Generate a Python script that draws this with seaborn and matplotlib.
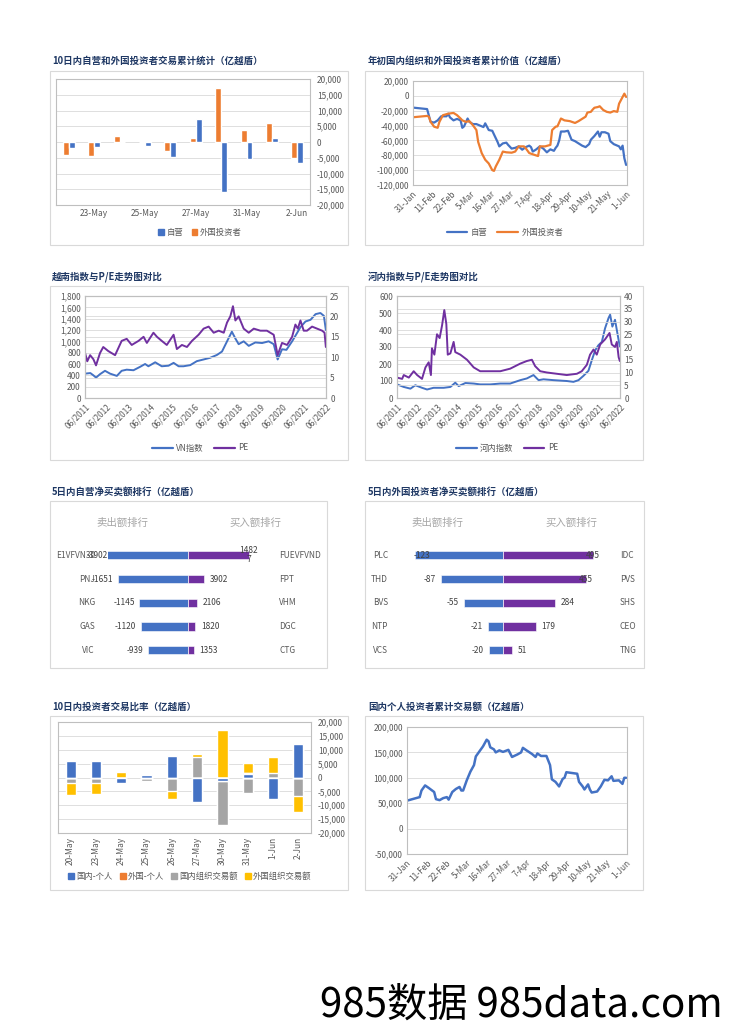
import numpy as np
import pandas as pd
import matplotlib
matplotlib.use('Agg')
import matplotlib.pyplot as plt
import matplotlib.transforms as mtransforms
from matplotlib.patches import Rectangle, Patch
from matplotlib.lines import Line2D
from matplotlib.ticker import FuncFormatter, MultipleLocator
import seaborn as sns

sns.set_theme(style='white')
plt.rcParams['font.family'] = ['Noto Sans CJK SC', 'DejaVu Sans']
plt.rcParams['axes.unicode_minus'] = False

# ------------------------------------------------------------------ data
# Panel 1: 10-day proprietary vs foreign (亿越盾)
p1_dates = ['20-May', '23-May', '24-May', '25-May', '26-May', '27-May', '30-May', '31-May', '1-Jun', '2-Jun']
p1_self = [-1850, -1650, 0, -1200, -4800, 7400, -15900, -5400, 1400, -6700]
p1_foreign = [-4200, -4400, 1950, 0, -2700, 1200, 17100, 3900, 6100, -5200]

# Panel 2: cumulative since start of year (days after 31-Jan)
p2_self_day = [0, 8, 10, 12, 14, 16, 19, 20, 21, 23, 25, 27, 28, 29, 31, 32, 34, 36, 38, 40, 41, 43, 45, 47,
               48, 49, 50, 51, 53, 54, 56, 58, 60, 62, 64, 66, 67, 68, 70, 72, 74, 76, 78, 80, 81, 82, 83, 84,
               86, 88, 90, 92, 94, 96, 98, 100, 101, 103, 105, 106, 107, 109, 111, 112, 114, 116, 117, 118,
               119, 120, 121]
p2_self = [-15800, -17800, -35000, -36000, -33000, -27500, -27500, -24000, -29000, -33000, -31000, -33000,
           -43000, -41000, -30500, -35000, -38000, -38000, -40000, -42000, -37000, -46000, -47000, -57000,
           -62000, -68000, -66000, -64000, -63000, -66000, -71000, -70000, -68000, -72500, -69000, -67000,
           -69000, -75000, -72000, -68000, -71000, -76000, -72000, -74000, -70000, -67000, -60000, -48000,
           -48000, -47000, -59000, -61000, -64000, -67000, -69000, -65000, -59000, -54000, -48000, -55000,
           -49000, -49000, -51000, -61000, -65000, -67000, -68000, -72000, -67000, -84000, -93000]
p2_foreign_day = [0, 8, 9, 10, 12, 14, 15, 17, 20, 23, 25, 27, 28, 30, 32, 34, 36, 37, 39, 41, 43, 45, 46, 47,
                  49, 51, 53, 56, 58, 60, 63, 64, 66, 69, 71, 72, 75, 78, 79, 81, 82, 84, 86, 89, 92, 94, 96,
                  98, 99, 101, 102, 103, 105, 106, 108, 110, 112, 114, 116, 117, 119, 120, 121]
p2_foreign = [-28800, -27000, -28000, -35000, -41500, -43000, -35000, -26000, -24000, -23000, -26000, -30500,
              -33000, -35000, -34000, -39500, -46000, -62000, -77000, -86000, -91000, -100000, -101000, -95000,
              -86000, -75000, -76000, -76500, -75000, -68000, -68000, -70500, -77000, -79500, -81000, -68000,
              -68000, -66000, -46000, -41500, -41000, -30500, -33000, -34000, -36500, -34000, -31000, -28000,
              -22500, -21500, -18500, -16000, -15000, -14000, -19000, -21500, -22500, -20500, -21500, -10500,
              -1500, 3000, -1500]
p2_ticks = ['2022-01-31', '2022-02-11', '2022-02-22', '2022-03-05', '2022-03-16', '2022-03-27',
            '2022-04-07', '2022-04-18', '2022-04-29', '2022-05-10', '2022-05-21', '2022-06-01']

# Panel 3: VN-Index and P/E (decimal years)
p3_vn_t = [2011.42, 2011.66, 2011.80, 2011.92, 2012.10, 2012.33, 2012.56, 2012.87, 2013.09, 2013.32, 2013.63,
           2013.93, 2014.16, 2014.31, 2014.62, 2014.92, 2015.23, 2015.46, 2015.69, 2015.91, 2016.22, 2016.52,
           2016.83, 2017.13, 2017.44, 2017.67, 2017.90, 2018.12, 2018.28, 2018.43, 2018.66, 2018.89, 2019.19,
           2019.50, 2019.80, 2020.03, 2020.21, 2020.41, 2020.61, 2020.87, 2021.10, 2021.25, 2021.48, 2021.71,
           2021.94, 2022.16, 2022.32, 2022.41]
p3_vn = [430, 440, 400, 360, 420, 480, 430, 390, 480, 500, 490, 550, 600, 560, 630, 560, 570, 620, 560, 560,
         580, 650, 680, 710, 760, 820, 1000, 1170, 1050, 950, 1000, 920, 980, 970, 1000, 950, 680, 860, 850,
         1000, 1150, 1250, 1350, 1380, 1480, 1500, 1450, 1200]
p3_pe_t = [2011.42, 2011.52, 2011.65, 2011.80, 2011.92, 2012.10, 2012.25, 2012.48, 2012.79, 2013.09, 2013.32,
           2013.55, 2013.86, 2014.09, 2014.24, 2014.54, 2014.70, 2014.92, 2015.15, 2015.46, 2015.61, 2015.84,
           2016.07, 2016.30, 2016.60, 2016.83, 2017.06, 2017.29, 2017.52, 2017.75, 2017.90, 2018.05, 2018.17,
           2018.28, 2018.43, 2018.66, 2018.89, 2019.12, 2019.42, 2019.72, 2020.03, 2020.21, 2020.41, 2020.64,
           2020.87, 2021.02, 2021.13, 2021.25, 2021.40, 2021.55, 2021.78, 2022.01, 2022.24, 2022.35, 2022.41]
p3_pe = [11, 9, 10.5, 9.5, 8, 11, 12.5, 11.5, 10.5, 14, 14.5, 13, 14, 15, 13.5, 16, 15, 14, 13, 15.5, 12, 13,
         12.5, 14, 15.5, 17, 17.5, 16, 16.5, 16, 18.5, 20, 22.5, 19, 20, 17, 16, 17, 16.5, 16.5, 15.5, 10.5,
         13.5, 13, 15, 18, 17, 19, 16.5, 16.5, 17.5, 17, 16.5, 16, 12.5]

# Panel 4: HNX-Index and P/E
p4_idx_t = [2011.42, 2011.75, 2012.08, 2012.32, 2012.65, 2012.90, 2013.22, 2013.72, 2014.05, 2014.29, 2014.46,
            2014.79, 2015.20, 2015.52, 2016.02, 2016.51, 2017.00, 2017.50, 2017.82, 2018.15, 2018.40, 2018.64,
            2019.14, 2019.79, 2020.12, 2020.37, 2020.61, 2020.86, 2021.02, 2021.19, 2021.35, 2021.52, 2021.68,
            2021.85, 2021.93, 2022.04, 2022.17, 2022.29, 2022.41]
p4_idx = [80, 65, 55, 75, 60, 50, 60, 60, 65, 90, 70, 88, 85, 80, 80, 85, 85, 105, 115, 135, 105, 110, 105,
          100, 95, 105, 130, 160, 220, 280, 310, 330, 410, 470, 490, 420, 460, 380, 300]
p4_pe_t = [2011.42, 2011.67, 2011.75, 2012.00, 2012.24, 2012.41, 2012.65, 2012.82, 2012.98, 2013.09, 2013.14,
           2013.26, 2013.39, 2013.52, 2013.64, 2013.75, 2013.85, 2013.92, 2014.05, 2014.21, 2014.29, 2014.54,
           2014.87, 2015.20, 2015.52, 2016.02, 2016.51, 2017.00, 2017.50, 2017.82, 2018.07, 2018.23, 2018.48,
           2018.81, 2019.30, 2019.79, 2020.29, 2020.53, 2020.78, 2020.94, 2021.11, 2021.27, 2021.44, 2021.68,
           2021.90, 2022.01, 2022.17, 2022.26, 2022.35, 2022.41]
p4_pe = [8, 7.5, 9, 8, 10.5, 9, 7.5, 12, 14, 9, 19.5, 17, 25, 23.5, 28.5, 34.5, 29, 17, 17.5, 22, 18, 17, 15,
         12, 10.5, 10.5, 10.5, 11.5, 13.5, 14.5, 15, 12.5, 10.5, 10, 9.5, 9, 9.5, 10.5, 13, 17, 19, 17, 21, 23,
         25.5, 21, 20, 22, 16, 14.5]
p34_ticks = ['06/2011', '06/2012', '06/2013', '06/2014', '06/2015', '06/2016',
             '06/2017', '06/2018', '06/2019', '06/2020', '06/2021', '06/2022']

# Panel 5: 5-day proprietary net buy/sell ranking
p5_sell_names = ['E1VFVN30', 'PNJ', 'NKG', 'GAS', 'VIC']
p5_sell_vals = [-3902, -1651, -1145, -1120, -939]
p5_buy_names = ['FUEVFVND', 'FPT', 'VHM', 'DGC', 'CTG']
p5_buy_vals = [14827, 3902, 2106, 1820, 1353]

# Panel 6: 5-day foreign net buy/sell ranking
p6_sell_names = ['PLC', 'THD', 'BVS', 'NTP', 'VCS']
p6_sell_vals = [-123, -87, -55, -21, -20]
p6_buy_names = ['IDC', 'PVS', 'SHS', 'CEO', 'TNG']
p6_buy_vals = [495, 455, 284, 179, 51]

# Panel 7: investor trading by type
p7_dates = ['20-May', '23-May', '24-May', '25-May', '26-May', '27-May', '30-May', '31-May', '1-Jun', '2-Jun']
p7_dom_ind = [5950, 5950, -1860, 900, 7630, -8830, -1260, 1380, -7630, 12070]
p7_for_ind = [0, 0, 0, 0, 0, 0, 0, 240, 0, 240]
p7_dom_org = [-1980, -1860, 0, -1380, -4860, 7390, -15970, -5460, 1620, -6790]
p7_for_org = [-4200, -4200, 1860, 360, -2890, 1080, 17100, 3720, 5770, -5640]
p7_labels = ['国内-个人', '外国-个人', '国内组织交易额', '外国组织交易额']

# Panel 8: domestic individual cumulative
p8_day = [0, 7, 8, 10, 12, 15, 16, 18, 20, 22, 23, 25, 27, 29, 30, 31, 33, 35, 37, 38, 40, 42, 44, 45, 46, 48,
          49, 51, 53, 56, 58, 61, 63, 64, 66, 69, 71, 72, 74, 77, 79, 80, 82, 84, 86, 87, 88, 92, 94, 95, 97,
          98, 100, 101, 102, 105, 107, 109, 111, 113, 114, 117, 119, 120, 121]
p8_val = [55000, 62000, 75000, 85000, 80000, 72000, 58000, 56000, 60000, 62000, 57000, 72000, 78000, 82000,
          75000, 75000, 95000, 112000, 125000, 142000, 152000, 162000, 175000, 172000, 160000, 156000, 150000,
          154000, 151000, 155000, 141000, 146000, 150000, 159000, 154000, 147000, 141000, 148000, 143000,
          143000, 125000, 97000, 92000, 83000, 98000, 100000, 111000, 109000, 108000, 92000, 83000, 77000,
          87000, 77000, 71000, 73000, 83000, 96000, 95000, 103000, 94000, 95000, 88000, 100000, 100000]

# ------------------------------------------------------------------ style
W, H = 729, 1032
BLUE = '#4472C4'; ORANGE = '#ED7D31'; GRAY = '#A5A5A5'; YELLOW = '#FFC000'; PURPLE = '#7030A0'
TICK = '#595959'; GRID = '#D9D9D9'; BORDER = '#BFBFBF'; TITLE = '#1F3864'; VAL = '#404040'

fig = plt.figure(figsize=(W / 100, H / 100), dpi=100)
fig.patch.set_facecolor('white')


def rect(x0, y0, x1, y1):
    return [x0 / W, 1 - y1 / H, (x1 - x0) / W, (y1 - y0) / H]


def frame(x0, y0, x1, y1):
    fig.add_artist(Rectangle((x0 / W, 1 - y1 / H), (x1 - x0) / W, (y1 - y0) / H,
                             transform=fig.transFigure, fill=False, ec='#D9D9D9', lw=0.8))


def title(x, y, s):
    fig.text(x / W, 1 - y / H, s, fontsize=6.8, fontweight='bold', color=TITLE, va='center', ha='left')


def style(ax, grid=True):
    for sp in ax.spines.values():
        sp.set_visible(True)
        sp.set_color(BORDER)
        sp.set_linewidth(0.8)
    ax.tick_params(length=0, labelsize=6, labelcolor=TICK, pad=3)
    ax.xaxis.grid(False)
    ax.yaxis.grid(grid, color=GRID, lw=0.6)
    ax.set_axisbelow(True)
    ax.set_xlabel('')
    ax.set_ylabel('')


def rotate(ax, deg):
    for lab in ax.get_xticklabels():
        lab.set_rotation(deg)
        if deg == 90:
            lab.set_ha('center')
        else:
            lab.set_ha('right')
            lab.set_rotation_mode('anchor')


comma = FuncFormatter(lambda v, p: f"{v:,.0f}")
leg_kw = dict(loc='center', frameon=False, fontsize=6, labelcolor=TICK)

# ------------------------------------------------------------------ frames & titles
frame(50, 71, 348, 245); frame(365, 71, 643, 245)
frame(50, 286, 348, 460); frame(365, 286, 643, 460)
frame(50, 501, 327, 668); frame(365, 501, 644, 668)
frame(50, 716, 348, 890); frame(365, 716, 643, 890)
title(52, 61, '10日内自营和外国投资者交易累计统计（亿越盾）')
title(368, 61, '年初国内组织和外国投资者累计价值（亿越盾）')
title(52, 277, '越南指数与P/E走势图对比')
title(368, 277, '河内指数与P/E走势图对比')
title(52, 492, '5日内自营净买卖额排行（亿越盾）')
title(368, 492, '5日内外国投资者净买卖额排行（亿越盾）')
title(52, 707, '10日内投资者交易比率（亿越盾）')
title(368, 707, '国内个人投资者累计交易额（亿越盾）')

# ------------------------------------------------------------------ panel 1
ax1 = fig.add_axes(rect(56, 79, 310, 205))
df1 = pd.DataFrame({'date': p1_dates * 2,
                    'series': ['外国投资者'] * len(p1_dates) + ['自营'] * len(p1_dates),
                    'value': p1_foreign + p1_self})
sns.barplot(data=df1, x='date', y='value', hue='series', hue_order=['外国投资者', '自营'], order=p1_dates,
            palette={'外国投资者': ORANGE, '自营': BLUE}, width=0.46, saturation=1, errorbar=None,
            legend=False, ax=ax1)
ax1.set_ylim(-20000, 20000)
ax1.yaxis.set_major_locator(MultipleLocator(5000))
ax1.yaxis.set_major_formatter(comma)
ax1.yaxis.tick_right()
ax1.set_xlim(-0.5, len(p1_dates) - 0.5)
ax1.set_xticks(range(len(p1_dates)))
ax1.set_xticklabels([d if i % 2 else '' for i, d in enumerate(p1_dates)])
style(ax1)
ax1.tick_params(axis='y', pad=5)
fig.legend(handles=[Patch(color=BLUE, label='自营'), Patch(color=ORANGE, label='外国投资者')],
           bbox_to_anchor=(200 / W, 1 - 232 / H), ncol=2, handlelength=0.7, handleheight=0.7,
           handletextpad=0.3, columnspacing=1.0, **leg_kw)

# ------------------------------------------------------------------ panel 2
base = pd.Timestamp('2022-01-31')
ax2 = fig.add_axes(rect(413, 81, 627, 185))
sns.lineplot(x=base + pd.to_timedelta(p2_self_day, unit='D'), y=p2_self, color=BLUE, lw=1.6, ax=ax2)
sns.lineplot(x=base + pd.to_timedelta(p2_foreign_day, unit='D'), y=p2_foreign, color=ORANGE, lw=1.6, ax=ax2)
ax2.set_ylim(-120000, 20000)
ax2.yaxis.set_major_locator(MultipleLocator(20000))
ax2.yaxis.set_major_formatter(comma)
tk = pd.to_datetime(p2_ticks)
ax2.set_xticks(tk)
ax2.set_xticklabels([f"{d.day}-{d.strftime('%b')}" for d in tk])
ax2.set_xlim(base, base + pd.Timedelta(days=121.5))
style(ax2)
rotate(ax2, 45)
fig.legend(handles=[Line2D([], [], color=BLUE, lw=1.6, label='自营'),
                    Line2D([], [], color=ORANGE, lw=1.6, label='外国投资者')],
           bbox_to_anchor=(505 / W, 1 - 232 / H), ncol=2, handlelength=2.5, handletextpad=0.4,
           columnspacing=1.2, **leg_kw)


# ------------------------------------------------------------------ panels 3 & 4
def year_pos(lbl):
    m, y = lbl.split('/')
    return int(y) + (int(m) - 1) / 12


def index_pe(box, t1, v1, t2, v2, ymax1, step1, ymax2, step2, label1, leg_x):
    ax = fig.add_axes(rect(*box))
    sns.lineplot(x=t1, y=v1, color=BLUE, lw=1.4, ax=ax)
    ax.set_ylim(0, ymax1)
    ax.yaxis.set_major_locator(MultipleLocator(step1))
    ax.yaxis.set_major_formatter(comma)
    axb = ax.twinx()
    sns.lineplot(x=t2, y=v2, color=PURPLE, lw=1.4, ax=axb)
    axb.set_ylim(0, ymax2)
    axb.yaxis.set_major_locator(MultipleLocator(step2))
    pos = [year_pos(s) for s in p34_ticks]
    ax.set_xticks(pos)
    ax.set_xticklabels(p34_ticks)
    ax.set_xlim(pos[0], pos[-1])
    style(ax, grid=False)
    style(axb, grid=False)
    rotate(ax, 45)
    fig.legend(handles=[Line2D([], [], color=BLUE, lw=1.6, label=label1),
                        Line2D([], [], color=PURPLE, lw=1.6, label='PE')],
               bbox_to_anchor=(leg_x / W, 1 - 448 / H), ncol=2, handlelength=2.5, handletextpad=0.4,
               columnspacing=1.2, **leg_kw)


index_pe((85, 296, 326, 398), p3_vn_t, p3_vn, p3_pe_t, p3_pe, 1800, 200, 25, 5, 'VN指数', 200)
index_pe((397, 296, 620, 398), p4_idx_t, p4_idx, p4_pe_t, p4_pe, 600, 100, 40, 5, '河内指数', 507)


# ------------------------------------------------------------------ panels 5 & 6
def ranking(x_left, x_zero, x_right, s_names, s_vals, b_names, b_vals, s_lim, b_lim,
            name_lx, name_rx, hdr_lx, hdr_rx):
    axL = fig.add_axes(rect(x_left, 543.5, x_zero, 662))
    axR = fig.add_axes(rect(x_zero, 543.5, x_right, 662))
    sns.barplot(x=s_vals, y=s_names, order=s_names, orient='h', color=BLUE, width=0.35, saturation=1,
                errorbar=None, edgecolor='white', linewidth=0.4, ax=axL)
    sns.barplot(x=b_vals, y=b_names, order=b_names, orient='h', color=PURPLE, width=0.35, saturation=1,
                errorbar=None, edgecolor='white', linewidth=0.4, ax=axR)
    n = len(s_names)
    axL.set_xlim(s_lim, 0); axR.set_xlim(0, b_lim)
    for a in (axL, axR):
        a.set_ylim(n - 0.5, -0.5)
        a.axis('off')
    tk = dict(textcoords='offset points', va='center', fontsize=6, color=VAL, annotation_clip=False)
    for i, v in enumerate(s_vals):
        if v < s_lim:
            axL.annotate(f"{v}", xy=(s_lim, i), xytext=(0, 0), ha='right', **tk)
        elif abs(v) >= 0.95 * abs(s_lim):
            axL.annotate(f"{v}", xy=(v, i), xytext=(-1, 0), ha='left', **tk)
        else:
            axL.annotate(f"{v}", xy=(v, i), xytext=(-3.5, 0), ha='right', **tk)
    for i, v in enumerate(b_vals):
        s = f"{v}"
        if v > 0.8 * b_lim:
            if len(s) > 4:
                s = s[:4] + "\n" + s[4:]
            axR.annotate(s, xy=(v, i), xytext=(0, 0), ha='center', linespacing=1.0, **tk)
        else:
            axR.annotate(s, xy=(v, i), xytext=(4.3, 0), ha='left', **tk)
    trL = mtransforms.blended_transform_factory(fig.transFigure, axL.transData)
    for i, nm in enumerate(s_names):
        axL.text(name_lx / W, i, nm, transform=trL, ha='right', va='center', fontsize=6, color=TICK)
    for i, nm in enumerate(b_names):
        axL.text(name_rx / W, i, nm, transform=trL, ha='left', va='center', fontsize=6, color=TICK)
    fig.text(hdr_lx / W, 1 - 523 / H, '卖出额排行', fontsize=7.5, color='#A6A6A6', ha='center', va='center')
    fig.text(hdr_rx / W, 1 - 523 / H, '买入额排行', fontsize=7.5, color='#A6A6A6', ha='center', va='center')


ranking(107.5, 188, 262, p5_sell_names, p5_sell_vals, p5_buy_names, p5_buy_vals, -1900, 18000,
        95, 279, 122, 255)
ranking(415, 503, 600, p6_sell_names, p6_sell_vals, p6_buy_names, p6_buy_vals, -123, 533,
        388, 620, 437, 571)

# ------------------------------------------------------------------ panel 7
ax7 = fig.add_axes(rect(58, 722, 311, 833))
vals7 = np.array([p7_dom_ind, p7_for_ind, p7_dom_org, p7_for_org], dtype=float)
cols7 = [BLUE, ORANGE, GRAY, YELLOW]
cum_pos = np.cumsum(np.clip(vals7, 0, None), axis=0)
cum_neg = np.cumsum(np.clip(vals7, None, 0), axis=0)
for k in reversed(range(len(cols7))):
    for cum in (cum_pos, cum_neg):
        sns.barplot(x=p7_dates, y=cum[k], order=p7_dates, color=cols7[k], width=0.4, saturation=1,
                    errorbar=None, ax=ax7)
ax7.set_ylim(-20000, 20000)
ax7.yaxis.set_major_locator(MultipleLocator(5000))
ax7.yaxis.set_major_formatter(comma)
ax7.yaxis.tick_right()
ax7.set_xlim(-0.5, len(p7_dates) - 0.5)
style(ax7)
ax7.tick_params(axis='y', pad=5)
rotate(ax7, 90)
fig.legend(handles=[Patch(color=c, label=l) for c, l in zip(cols7, p7_labels)],
           bbox_to_anchor=(190 / W, 1 - 876 / H), ncol=4, handlelength=0.7, handleheight=0.7,
           handletextpad=0.3, columnspacing=0.8, **leg_kw)

# ------------------------------------------------------------------ panel 8
ax8 = fig.add_axes(rect(407, 727, 627, 854))
sns.lineplot(x=base + pd.to_timedelta(p8_day, unit='D'), y=p8_val, color=BLUE, lw=1.8, ax=ax8)
ax8.set_ylim(-50000, 200000)
ax8.yaxis.set_major_locator(MultipleLocator(50000))
ax8.yaxis.set_major_formatter(comma)
ax8.set_xticks(tk)
ax8.set_xticklabels([f"{d.day}-{d.strftime('%b')}" for d in tk])
ax8.set_xlim(base, base + pd.Timedelta(days=121.5))
style(ax8)
rotate(ax8, 45)

# ------------------------------------------------------------------ watermark
fig.text(521 / W, 1 - 1005 / H, '985数据 985data.com', fontsize=29, ha='center', va='center', color='black')

fig.savefig('out.png', dpi=100, facecolor='white')
